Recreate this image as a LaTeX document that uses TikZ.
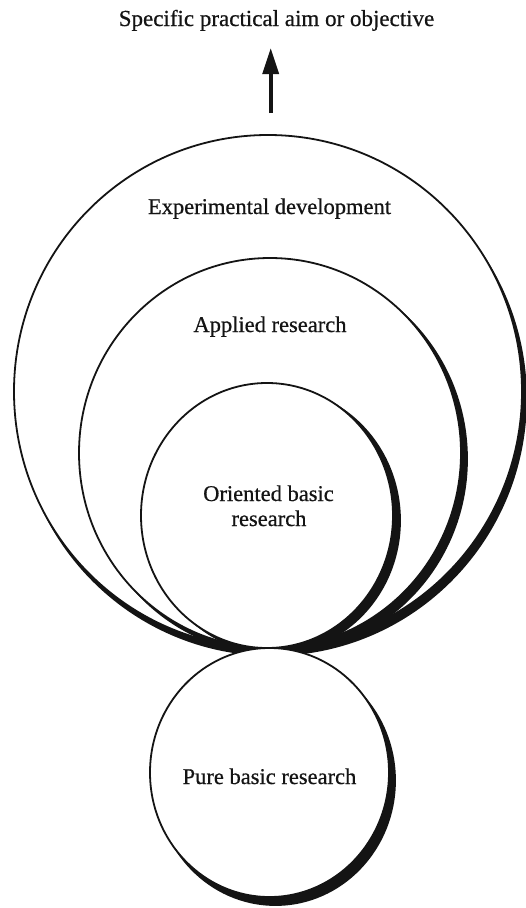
\documentclass[tikz,border=0pt]{standalone}
\usepackage{fontspec}
\setmainfont{Liberation Serif}
\newfontfamily\lblfont[FakeBold=0.6]{Liberation Serif}
\usetikzlibrary{arrows.meta}
\newcommand\shadoweli[6]{%
  \fill[black!92] (#1+#5,#2+#6) ellipse ({#3+0.9} and {#4+0.9});
  \fill[white] (#1,#2) ellipse ({#3} and {#4});
  \draw[ring] (#1,#2) ellipse ({#3} and {#4});
}
\begin{document}
\begin{tikzpicture}[x=1pt,y=-1pt,
  ring/.style={line width=1.8pt, black!92},
  lbl/.style={anchor=base, inner sep=0pt, text=black!92, font=\lblfont\fontsize{22.5}{26}\selectfont, align=center},
  arrowline/.style={line width=3.6pt, black!92, -{Triangle[length=26pt,width=16pt]}}]
\useasboundingbox (0,0) rectangle (526,908);
\fill[white] (0,0) rectangle (526,908);
% circles
\shadoweli{268}{391.5}{254}{256.5}{4}{7}
\shadoweli{270}{453}{191}{195}{6}{6}
\shadoweli{267}{515.5}{126}{132.5}{7}{5}
\shadoweli{269.5}{772.5}{119.5}{124.5}{6}{8}
% labels
\node[lbl, font=\lblfont\fontsize{23}{26}\selectfont] (title) at (276.5,26) {Specific practical aim or objective};
\node[lbl] (exp) at (269.5,214) {Experimental development};
\node[lbl] (app) at (270,332) {Applied research};
\node[lbl] (ori) at (268.5,501) {Oriented basic};
\node[lbl] (ori2) at (269,526) {research};
\node[lbl] (pure) at (269.5,784) {Pure basic research};
% arrow
\coordinate (abase) at (270.7,113);
\draw[arrowline, shorten >=17pt] (abase) -- (abase |- title.south);
\end{tikzpicture}
\end{document}
